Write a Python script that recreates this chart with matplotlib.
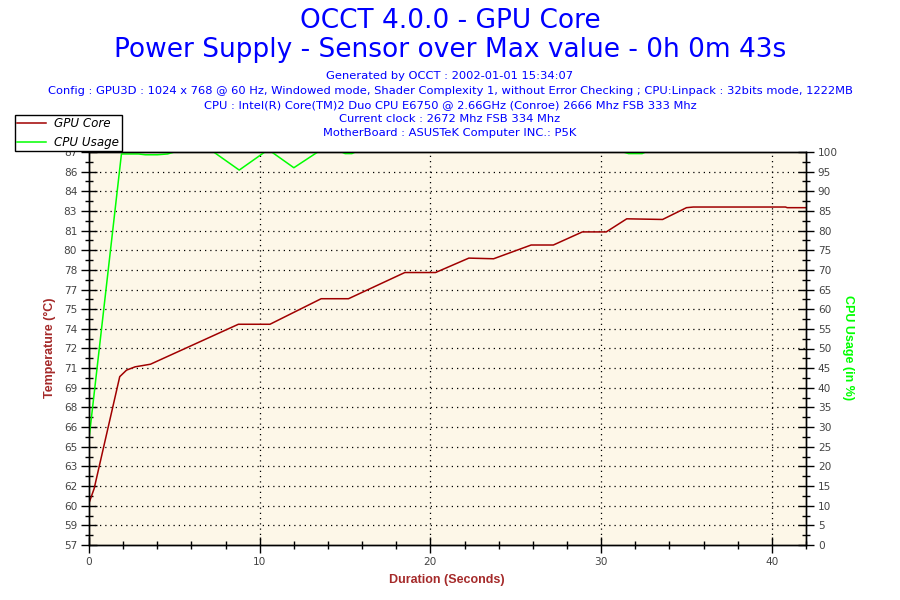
import numpy as np
import matplotlib
matplotlib.use('Agg')
import matplotlib.pyplot as plt
from matplotlib.ticker import FixedLocator

# GPU Core temperature (time in s, degrees C)
temp_t = [0.0, 0.3, 1.8, 2.2, 2.7, 3.6, 8.75, 10.6, 13.6, 15.2, 18.5, 20.3,
          22.25, 23.7, 25.9, 27.2, 28.9, 30.3, 31.5, 33.6, 35.0, 35.4,
          40.8, 40.9, 42.0]
temp_v = [60.2, 61.3, 69.85, 70.35, 70.6, 70.8, 73.85, 73.85, 75.8, 75.8,
          77.8, 77.8, 78.9, 78.85, 79.9, 79.9, 80.9, 80.9, 81.9, 81.85,
          82.75, 82.8, 82.8, 82.75, 82.75]

# CPU usage (time in s, %)
cpu_t = [0.0, 1.9, 2.9, 3.3, 4.0, 4.6, 5.0, 7.3, 8.8, 10.3, 10.7, 12.0,
         13.4, 14.8, 15.0, 15.4, 15.6, 31.3, 31.6, 32.4, 32.6, 42.0]
cpu_v = [27, 99.5, 99.5, 99.3, 99.3, 99.5, 100, 100, 95.4, 100, 100, 96,
         100, 100, 99.6, 99.6, 100, 100, 99.6, 99.6, 100, 100]

titre1 = "OCCT 4.0.0 - GPU Core"
titre2 = "Power Supply - Sensor over Max value - 0h 0m 43s"
infos = ["Generated by OCCT : 2002-01-01 15:34:07",
         "Config : GPU3D : 1024 x 768 @ 60 Hz, Windowed mode, Shader Complexity 1, "
         "without Error Checking ; CPU:Linpack : 32bits mode, 1222MB",
         "CPU : Intel(R) Core(TM)2 Duo CPU E6750 @ 2.66GHz (Conroe) 2666 Mhz FSB 333 Mhz",
         "Current clock : 2672 Mhz FSB 334 Mhz",
         "MotherBoard : ASUSTeK Computer INC.: P5K"]

bleu = '#0000ff'
rouge = '#a00000'
brun = '#a52a2a'
vert = '#00ff00'
gris = '#444444'

fig = plt.figure(figsize=(9, 6), dpi=100)
fig.patch.set_facecolor('white')

W, H = 900.0, 600.0
ax = fig.add_axes([89 / W, 55 / H, 717 / W, 393 / H])
ax.set_facecolor('#fdf7e8')
ax2 = ax.twinx()

ax.set_xlim(0, 42)
ax.set_ylim(57, 87)
ax2.set_ylim(0, 100)

yt = np.linspace(57, 87, 21)
ax.yaxis.set_major_locator(FixedLocator(yt))
ax.set_yticklabels([str(int(np.floor(v + 0.5))) for v in yt])
ax.yaxis.set_minor_locator(FixedLocator(yt[:-1] + 0.75))
ax2.yaxis.set_major_locator(FixedLocator(np.arange(0, 101, 5)))
ax2.yaxis.set_minor_locator(FixedLocator(np.arange(2.5, 100, 5)))
ax.xaxis.set_major_locator(FixedLocator([0, 10, 20, 30, 40]))
ax.xaxis.set_minor_locator(FixedLocator([v for v in range(2, 43, 2) if v % 10]))

for a in (ax, ax2):
    a.tick_params(which='major', direction='inout', length=11, width=1,
                  labelsize=7.6, labelcolor=gris, color='black', pad=3)
    a.tick_params(which='minor', direction='inout', length=6, width=1,
                  color='black')
    for s in a.spines.values():
        s.set_linewidth(1)
        s.set_zorder(10)

# grille pointillée
for v in yt[1:-1]:
    ax.axhline(v, color='black', lw=0.9, ls=(0, (1, 3.2)), zorder=1)
for v in [10, 20, 30, 40]:
    ax.axvline(v, color='black', lw=0.9, ls=(0, (1, 3.2)), zorder=1)

l1, = ax.plot(temp_t, temp_v, color=rouge, lw=1.1, zorder=3)
l2, = ax2.plot(cpu_t, cpu_v, color=vert, lw=1.1, zorder=3)
ax2.set_zorder(ax.get_zorder() + 1)
ax2.patch.set_visible(False)

fig.text(50 / W, 1 - 348 / H, "Temperature (°C)", rotation=90, color=brun,
         fontsize=9, fontweight='bold', family='Liberation Sans',
         ha='center', va='center')
fig.text(848 / W, 1 - 348 / H, "CPU Usage (in %)", rotation=270, color=vert,
         fontsize=9, fontweight='bold', family='Liberation Sans',
         ha='center', va='center')
fig.text(447 / W, 1 - 580 / H, "Duration (Seconds)", color=brun,
         fontsize=9, fontweight='bold', family='Liberation Sans',
         ha='center', va='center')

fig.text(0.5, 1 - 21 / H, titre1, color=bleu, fontsize=19,
         ha='center', va='center')
fig.text(0.5, 1 - 50 / H, titre2, color=bleu, fontsize=19,
         ha='center', va='center')
ys = [76, 91, 105, 119, 132.5]
for txt, y in zip(infos, ys):
    fig.text(0.5, 1 - y / H, txt, color=bleu, fontsize=8.25,
             ha='center', va='center')

leg = fig.legend([l1, l2], ["GPU Core", "CPU Usage"], loc='upper left',
                 bbox_to_anchor=(15 / W, 1 - 115 / H), fancybox=False,
                 shadow=False, edgecolor='black', framealpha=1,
                 prop={'style': 'italic', 'size': 8.6}, handlelength=2.4,
                 borderpad=0.2, labelspacing=0.45, handletextpad=0.7,
                 borderaxespad=0)
leg.get_frame().set_linewidth(1)

fig.savefig('out.png', dpi=100)
